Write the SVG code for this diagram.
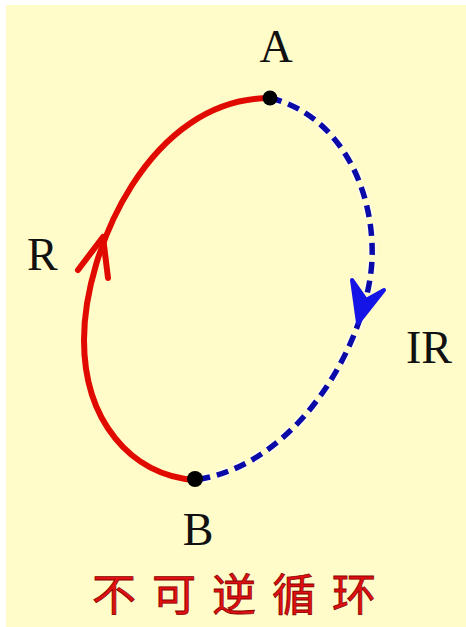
<svg xmlns="http://www.w3.org/2000/svg" width="466" height="627" viewBox="0 0 466 627">
<style>
.lbl{font-family:"Liberation Serif","Times New Roman",serif;font-size:46px;fill:#111}
.red{fill:none;stroke:#E00A00;stroke-width:6;stroke-linecap:round;stroke-linejoin:round}
.blue{fill:none;stroke:#0A0AA8;stroke-width:5.5;stroke-dasharray:12 7}
.halo{fill:none;stroke:#FFFFFF;stroke-width:9;stroke-dasharray:12 7;stroke-opacity:0.6}
.dot{fill:#000}
.title{font-family:"Noto Sans CJK SC","Noto Sans CJK TC",sans-serif;font-size:44px;fill:#E01010;stroke:#8A0000;stroke-width:0.8;letter-spacing:16px}
</style>
<rect x="0" y="0" width="466" height="627" fill="#FFFFFF"/>
<rect x="6" y="5" width="460" height="622" fill="#FFFCC9"/>
<g id="connectors">
  <g id="reversible">
    <path class="red" d="M195,480 C130,475 84,420 84,340 C84,250 150,98 270,98"/>
    <polyline class="red" points="78,270 103,237 108,278"/>
  </g>
  <g id="irreversible">
    <path class="halo" d="M270,98 C340,115 375,190 372,260 C368,340 300,465 195,480"/>
    <path class="blue" d="M270,98 C340,115 375,190 372,260 C368,340 300,465 195,480"/>
    <polygon points="358,323 352,280 366,300 384,290" fill="#1414E6" stroke="#1414E6" stroke-width="4" stroke-linejoin="round"/>
  </g>
</g>
<g id="node-A">
  <circle class="dot" cx="270" cy="98" r="7.5"/>
  <text class="lbl" x="276" y="62" text-anchor="middle">A</text>
</g>
<g id="node-B">
  <circle class="dot" cx="195" cy="479" r="8"/>
  <text class="lbl" x="198" y="545" text-anchor="middle">B</text>
</g>
<g id="label-R">
  <text class="lbl" x="27" y="270">R</text>
</g>
<g id="label-IR">
  <text class="lbl" x="406" y="363">IR</text>
</g>
<g id="title">
  <text class="title" x="92" y="611">不可逆循环</text>
</g>
</svg>
